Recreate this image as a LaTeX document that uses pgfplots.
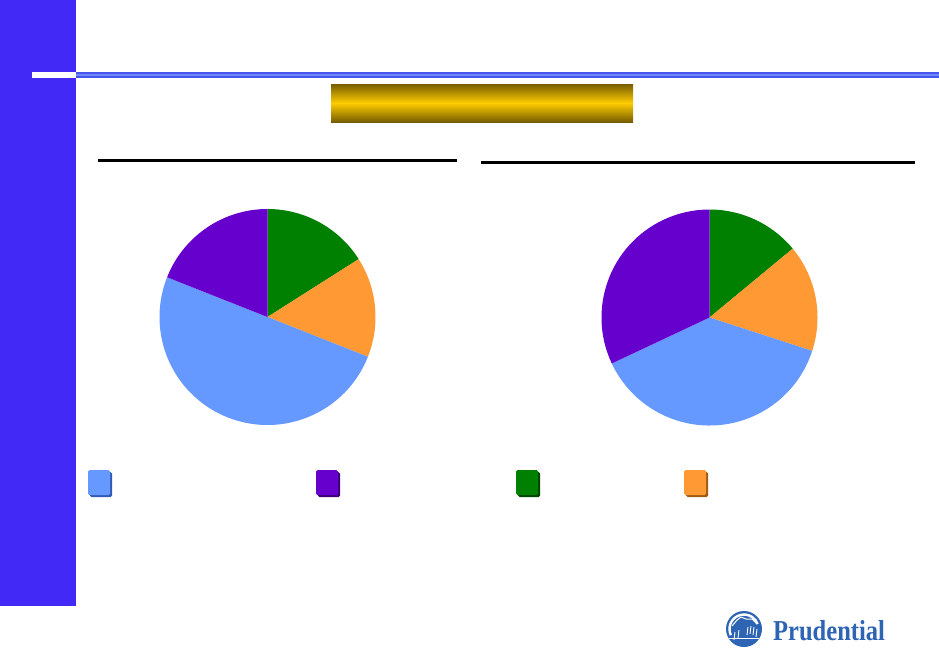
\documentclass[border=0pt]{standalone}
\usepackage{pgfplots}
\pgfplotsset{compat=1.18}
\usepackage{pgfplotstable}
\usepackage{fontspec}
\setmainfont{Liberation Serif}

\definecolor{barblue}{RGB}{66,41,245}
\definecolor{ruleblue}{RGB}{70,85,235}
\definecolor{rulelight}{RGB}{110,135,250}
\definecolor{gold}{RGB}{255,204,0}
\definecolor{golddark}{RGB}{118,94,0}
\definecolor{pblue}{RGB}{102,153,255}
\definecolor{ppurple}{RGB}{102,0,204}
\definecolor{pgreen}{RGB}{0,128,0}
\definecolor{porange}{RGB}{255,153,51}
\definecolor{pbluedk}{RGB}{50,90,180}
\definecolor{ppurpledk}{RGB}{60,0,120}
\definecolor{pgreendk}{RGB}{0,70,0}
\definecolor{porangedk}{RGB}{160,90,20}
\definecolor{logoblue}{RGB}{46,100,180}

% shares in percent, clockwise from twelve o'clock
\pgfplotstableread{
share color
16 pgreen
15 porange
50 pblue
19 ppurple
}\leftpie
\pgfplotstableread{
share color
14 pgreen
16 porange
38 pblue
32 ppurple
}\rightpie

% one filled sector per table row, radius 108bp (= 1 axis unit)
\newcommand{\drawpie}[1]{%
  \gdef\cumangle{90}%
  \pgfplotstableforeachcolumnelement{share}\of#1\as\share{%
    \pgfplotstablegetelem{\pgfplotstablerow}{color}\of#1%
    \let\slicecolor\pgfplotsretval
    \pgfmathsetmacro\endangle{\cumangle-3.6*\share}%
    \edef\slice{\noexpand\fill[\slicecolor] (axis cs:0,0) -- (axis cs:{cos(\cumangle)},{sin(\cumangle)})
      arc[start angle=\cumangle, end angle=\endangle, radius=108bp] -- cycle;}%
    \slice
    \xdef\cumangle{\endangle}%
  }%
}

\pgfplotsset{pieaxis/.style={hide axis, scale only axis, width=216bp, height=216bp,
  xmin=-1, xmax=1, ymin=-1, ymax=1, anchor=center}}

\newcommand{\legsq}[3]{%
  \fill[#3, rounded corners=1.5bp] ({#1bp+2bp},-472bp) rectangle ({#1bp+24bp},-497bp);
  \fill[#2, rounded corners=1.5bp] (#1bp,-470bp) rectangle ({#1bp+22bp},-495bp);
}

\begin{document}
\begin{tikzpicture}
\useasboundingbox (0,0) rectangle (939bp,-648bp);

% side bar and header rule
\fill[barblue] (0,0) rectangle (76bp,-606bp);
\fill[white] (32bp,-72bp) rectangle (76bp,-78bp);
\fill[ruleblue] (76bp,-72bp) rectangle (939bp,-78bp);
\fill[rulelight] (76bp,-74bp) rectangle (939bp,-76bp);

% gold banner
\shade[top color=golddark, bottom color=golddark, middle color=gold]
  (331bp,-84bp) rectangle (633bp,-122bp);

% rules above the two pies
\fill[black] (98bp,-159bp) rectangle (457bp,-162bp);
\fill[black] (481bp,-161bp) rectangle (915bp,-164bp);

% pies
\begin{axis}[pieaxis, at={(267.5bp,-317bp)}]
  \drawpie{\leftpie}
\end{axis}
\begin{axis}[pieaxis, at={(709.5bp,-317.5bp)}]
  \drawpie{\rightpie}
\end{axis}

% legend keys
\legsq{88}{pblue}{pbluedk}
\legsq{316}{ppurple}{ppurpledk}
\legsq{516}{pgreen}{pgreendk}
\legsq{684}{porange}{porangedk}

% logo: rock emblem in a disc
\fill[logoblue] (744bp,-629bp) circle (18bp);
\draw[white, line width=2.4bp] (744bp,-629bp) ++(205:14.5bp) arc[start angle=205, end angle=20, radius=14.5bp];
\draw[white, line width=1bp, line join=round]
  (732bp,-626bp) -- (737bp,-620bp) -- (741bp,-617bp) -- (746bp,-619bp) -- (752bp,-619bp) -- (756bp,-623bp);
\foreach \sx/\top in {735/632,739/630,748/627,751/626,754/627,757/629}
  \draw[white, line width=0.9bp] (\sx bp,-\top bp) -- ({\sx bp-1bp},{-\top bp-8bp});
\draw[white, line width=1bp] (729bp,-638bp) -- (759bp,-638bp);
\node[anchor=base west, inner sep=0, text=logoblue, xscale=0.85,
  font=\fontsize{29}{29}\selectfont\bfseries] at (773bp,-640bp) {Prudential};
\end{tikzpicture}
\end{document}
